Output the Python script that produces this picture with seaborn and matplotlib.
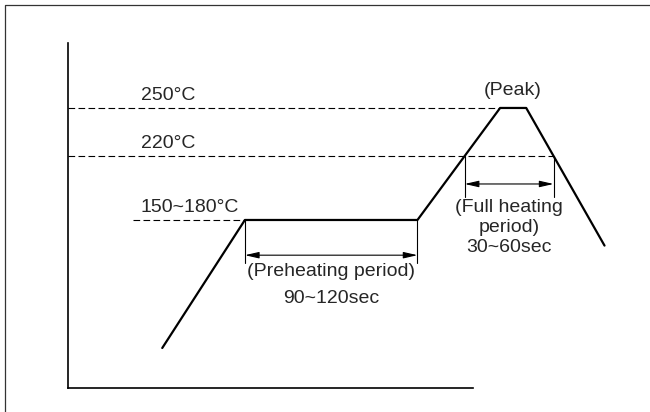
import numpy as np
import pandas as pd
import matplotlib.pyplot as plt
import seaborn as sns
from matplotlib.lines import Line2D

# schematic reflow profile: time (sec) vs temperature (degC)
time_s = [65, 122, 241, 298, 316, 370]
temp_c = [100, 180, 180, 250, 250, 164]

level_temps = [250, 220]
level_labels = ["250°C", "220°C"]
preheat_label = "150~180°C"

preheat_text = ["(Preheating period)", "90~120sec"]
full_text = "(Full heating\nperiod)\n30~60sec"
peak_text = "(Peak)"

sns.set_style("white")
plt.rcParams["font.family"] = ["Liberation Sans", "DejaVu Sans"]

df = pd.DataFrame({"time": time_s, "temp": temp_c})

fig = plt.figure(figsize=(6.5, 4.12), dpi=100)
ax = fig.add_axes([68 / 650, 24 / 412, 405 / 650, 345 / 412])

sns.lineplot(data=df, x="time", y="temp", sort=False, color="black",
             lw=1.6, ax=ax, clip_on=False)
ax.set_xlim(0, 279.3)
ax.set_ylim(75, 290.6)
sns.despine(ax=ax)
for s in ["left", "bottom"]:
    ax.spines[s].set_linewidth(1.2)
    ax.spines[s].set_color("black")
ax.set_xticks([])
ax.set_yticks([])
ax.set_xlabel("")
ax.set_ylabel("")

# key points on the profile
pre_start, pre_end = time_s[1], time_s[2]
peak_start, peak_end = time_s[3], time_s[4]
full_start = np.interp(220, temp_c[2:4], time_s[2:4])
full_end = np.interp(220, temp_c[4:6][::-1], time_s[4:6][::-1])

dash = dict(color="black", lw=0.8, dashes=(6, 3), clip_on=False)
ax.plot([0, peak_start], [level_temps[0]] * 2, **dash)
ax.plot([0, full_end], [level_temps[1]] * 2, **dash)
ax.plot([45, pre_start], [temp_c[1]] * 2, **dash)

fs = 14
ax.text(50, 258, level_labels[0], fontsize=fs, va="center")
ax.text(50, 228, level_labels[1], fontsize=fs, va="center")
ax.text(50, 187.5, preheat_label, fontsize=fs, va="center")
ax.text((peak_start + peak_end) / 2, 261, peak_text, fontsize=fs,
        ha="center", va="center")

arrow = dict(arrowstyle="<|-|>,head_length=0.7,head_width=0.16",
             color="black", lw=0.8, mutation_scale=12, shrinkA=0, shrinkB=0)

# preheating period bracket
thin = dict(color="black", lw=0.8, clip_on=False)
for t in (pre_start, pre_end):
    ax.plot([t, t], [180, 153], **thin)
ax.annotate("", xy=(pre_end, 158), xytext=(pre_start, 158),
            arrowprops=arrow, annotation_clip=False)
mid = (pre_start + pre_end) / 2
ax.text(mid, 147.5, preheat_text[0], fontsize=fs, ha="center", va="center")
ax.text(mid, 131, preheat_text[1], fontsize=fs, ha="center", va="center")

# full heating period bracket
for t in (full_start, full_end):
    ax.plot([t, t], [220, 194.4], **thin)
ax.annotate("", xy=(full_end, 202.5), xytext=(full_start, 202.5),
            arrowprops=arrow, annotation_clip=False)
ax.text((full_start + full_end) / 2, 175.5, full_text, fontsize=fs,
        ha="center", va="center", linespacing=1.24, clip_on=False)

# outer frame (open to the right and bottom)
fx, fy = 4.5 / 650, 1 - 4.5 / 412
fig.add_artist(Line2D([fx, fx, 1], [0, fy, fy], color="#333333", lw=0.9,
                      transform=fig.transFigure))

fig.savefig("out.png", dpi=100)
